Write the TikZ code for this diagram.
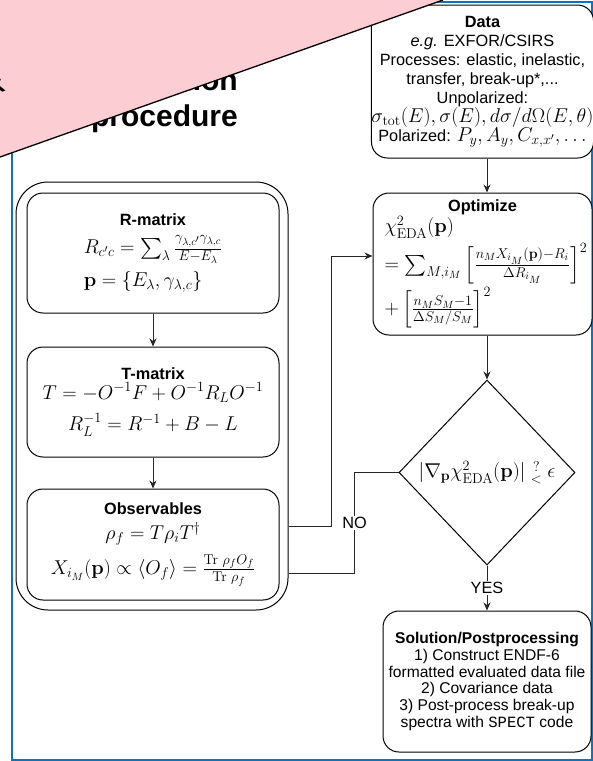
\RequirePackage{fix-cm}
\documentclass[tikz,border=0pt]{standalone}
\usepackage{amsmath}
\usepackage[no-math]{fontspec}
\setmainfont{Liberation Sans}
\setmonofont{Liberation Mono}
\usetikzlibrary{shapes.geometric,arrows.meta}
\DeclareMathSizes{16.3}{20}{14.2}{10.5}

\definecolor{framecol}{RGB}{16,114,189}
\definecolor{banner}{RGB}{252,205,210}

\tikzset{
  box/.style={draw, fill=white, rounded corners=16pt, line width=1pt, align=center, inner sep=0pt},
  link/.style={line width=1pt, draw=black!85},
}

\begin{document}
\begin{tikzpicture}[x=1pt, y=-1pt, >={Stealth[length=8pt,width=7pt]},
  every node/.style={font=\fontsize{16.3}{19}\selectfont}]
    \useasboundingbox (0,0) rectangle (593,761);

    % outer frame
    \draw[framecol, line width=2pt] (12,2) rectangle (592,760);

    \node[font=\bfseries\fontsize{30}{36}\selectfont, align=right, anchor=north east, inner sep=0pt] (title) at (238,69) {evaluation\\procedure};

    % R-matrix engine
    \node[box, rounded corners=32pt, minimum width=272pt, minimum height=428pt] (engine) at (152,396) {};
    \node[box, minimum width=252pt, minimum height=120pt] (rmat) at (153,253)
        {\textbf{R-matrix}\\[9pt] \begin{tabular}{@{}l@{}}$R_{c'c} = \sum_\lambda \frac{\gamma_{\lambda,c'}\gamma_{\lambda,c}}{E-E_\lambda}$\\[12pt] $\mathbf{p} = \{E_\lambda,\gamma_{\lambda,c}\}$\end{tabular}};
    \node[box, minimum width=252pt, minimum height=110pt] (tmat) at (153,402)
        {\textbf{T-matrix}\\[1pt] $T = -O^{-1}F + O^{-1}R_LO^{-1}$\\[10pt] $R_L^{-1} = R^{-1} + B - L$};
    \node[box, minimum width=252pt, minimum height=111pt] (obs) at (153,544.5)
        {\textbf{Observables}\\[6pt] $\rho_f = T\rho_iT^\dagger$\\[8pt] $X_{i_M}(\mathbf{p}) \propto \langle O_f\rangle = \frac{\mathrm{Tr}\ \rho_f O_f}{\mathrm{Tr}\ \rho_f}$};

    % right column
    \node[box, minimum width=219pt, minimum height=153pt] (data) at (482.5,81.5)
        {\textbf{Data}\\ \textit{e.g.} EXFOR/CSIRS\\ Processes: elastic, inelastic,\\ transfer, break-up*,...\\ Unpolarized:\\ $\sigma_{\mathrm{tot}}(E), \sigma(E), d\sigma/d\Omega(E,\theta)$\\ Polarized: $P_y, A_y, C_{x,x'}, \ldots$};
    \node[box, minimum width=219pt, minimum height=142pt, text width=196pt, align=left] (opt) at (482.5,264)
        {\hfill\textbf{Optimize}\hfill\null\\ \mbox{$\chi^2_{\mathrm{EDA}}(\mathbf{p})$}\\[4pt] \mbox{$= \sum_{M,i_M}\left[\frac{n_M X_{i_M}(\mathbf{p})-R_i}{\Delta R_{i_M}}\right]^2$}\\[2pt] \mbox{$+\left[\frac{n_M S_M-1}{\Delta S_M/S_M}\right]^2$}};
    \node[draw, diamond, line width=1pt, minimum width=176pt, minimum height=185pt, inner sep=0pt] (check) at (487,472.5)
        {$|\nabla_{\mathbf{p}}\chi^2_{\mathrm{EDA}}(\mathbf{p})| \mathrel{\substack{?\\<}} \epsilon$};
    \node[box, minimum width=208pt, minimum height=141pt, font=\fontsize{15.6}{16.8}\selectfont] (sol) at (487,681.5)
        {\textbf{Solution/Postprocessing}\\ 1) Construct ENDF-6\\ formatted evaluated data file\\ 2) Covariance data\\ 3) Post-process break-up\\ spectra with \texttt{SPECT} code};

    \draw[link,->] (rmat) -- (tmat);
    \draw[link,->] (tmat) -- (obs);
    \draw[link,->] (data.south -| check.north) -- (opt.north -| check.north);
    \draw[link,->] (opt.south -| check.north) -- (check.north);
    \draw[link,->] (check) -- node[fill=white, inner sep=1pt] {YES} (sol);
    \draw[link,->] ([yshift=-130pt]engine.east) -- ++(43,0) |- ([yshift=8pt]opt.west);
    \draw[link] (check.west) -- ++(-44,0) |- node[pos=0.25, fill=white, inner sep=1pt] {NO} ([yshift=-177pt]engine.east);

    % banner
    \fill[banner] (0,0) -- (443,0) -- (0,157) -- cycle;
    \draw[line width=1.3pt] (0,157) -- (443,0);
    \node[rotate=19.5, font=\bfseries\fontsize{24}{24}\selectfont, anchor=east, inner sep=0pt] (mark) at (3,83) {k};
\end{tikzpicture}
\end{document}
